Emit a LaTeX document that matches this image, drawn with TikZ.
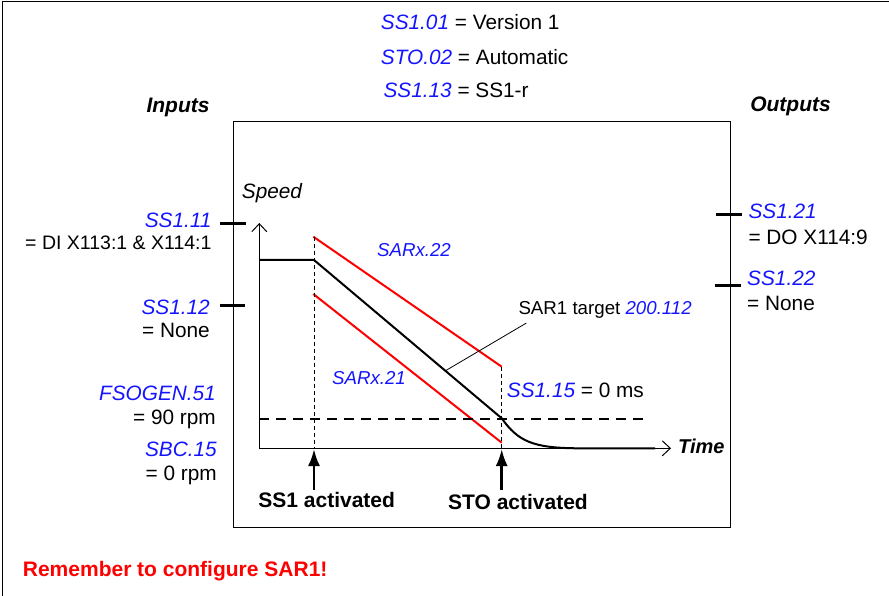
\documentclass[tikz,border=0pt]{standalone}
\usepackage{fontspec}
\setmainfont{Liberation Sans}
\usetikzlibrary{arrows.meta, positioning, calc}
\definecolor{sfBlue}{RGB}{20,20,255}
\definecolor{sfRed}{RGB}{255,0,0}
\newcommand{\sfpar}[1]{{\color{sfBlue}\itshape #1}}

\begin{document}
\begin{tikzpicture}[x=1pt, y=-1pt,
    txt/.style={inner sep=0pt, font=\fontsize{20.8}{24}\selectfont},
    prm/.style={inner sep=0pt, text=sfBlue, font=\fontsize{20.8}{24}\selectfont\itshape},
    small/.style={font=\fontsize{18.7}{22}\selectfont\itshape},
    hdr/.style={inner sep=0pt, font=\fontsize{21}{25}\selectfont\bfseries\itshape},
    evt/.style={inner sep=0pt, font=\fontsize{21}{25}\selectfont\bfseries},
    tickmark/.style={line width=2.6pt},
    axis/.style={line width=1pt, -{Straight Barb[length=8pt, width=15pt]}},
    speed/.style={line width=2pt},
    limit/.style={line width=2pt, draw=sfRed},
    guide/.style={line width=0.8pt, dash pattern=on 4pt off 3pt},
    level/.style={line width=2pt, dash pattern=on 10pt off 7pt},
    trigger/.style={line width=2.6pt, -{Latex[length=17pt, width=12pt]}},
    node distance=9pt and 0pt
]
    \useasboundingbox (0,0) rectangle (889,596);
    \draw[line width=1.5pt] (2.5,596) -- (2.5,1.5) -- (889,1.5);

    % settings
    \node[txt, anchor=base west] (ver) at (380.7,30) {\sfpar{SS1.01} = Version 1};
    \node[txt, anchor=base west] (sto) at (380.7,64.5) {\sfpar{STO.02} = Automatic};
    \node[txt, anchor=base west] (ss113) at (383.3,97.5) {\sfpar{SS1.13} = SS1-r};
    \node[hdr, anchor=base] (inputs) at (178,112.5) {Inputs};
    \node[hdr, anchor=base] (outputs) at (790.5,112) {Outputs};

    % chart
    \node[draw, line width=1.3pt, minimum width=497pt, minimum height=406pt,
          inner sep=0pt, outer sep=0pt] (chart) at (481.8,324.3) {};
    \coordinate (o) at (259.3,448.3);
    \coordinate (yend) at (259.3,223);
    \coordinate (xend) at (671,448.3);
    \draw[axis] (o) -- (yend);
    \draw[axis] (o) -- (xend);
    \node[txt, font=\fontsize{20.8}{24}\selectfont\itshape, anchor=base west] (speedlbl) at (241.7,199) {Speed};
    \node[hdr, font=\fontsize{20}{24}\selectfont\bfseries\itshape, anchor=base west] (timelbl) at (678,453) {Time};

    \coordinate (s0) at (259.3,260);
    \coordinate (s1) at (314,260);
    \coordinate (s2) at (501.7,418.3);
    \coordinate (s3) at (580,448.3);
    \coordinate (s4) at (655,448.3);
    \draw[speed] (s0) -- (s1) -- (s2) .. controls (518,441) and (532,448.3) .. (s3) -- (s4);

    \coordinate (hi0) at (313.3,236.7);
    \coordinate (hi1) at (501.7,366.7);
    \coordinate (lo0) at (313.3,294);
    \coordinate (lo1) at (501.7,442.7);
    \draw[limit] (hi0) -- (hi1);
    \draw[limit] (lo0) -- (lo1);

    \coordinate (t1) at (314,449);
    \coordinate (t2) at (501.7,449);
    \draw[guide] (314,236.7) -- (t1);
    \draw[guide] (hi1) -- (t2);
    \draw[level] (259.3,419.3) -- (648,419.3);
    \draw[trigger] (314,490) -- (t1);
    \draw[trigger] (501.7,490) -- (t2);

    \node[evt, anchor=base] (ss1act) at (326.7,507.5) {SS1 activated};
    \node[evt, anchor=base] (stoact) at (518,509) {STO activated};
    \node[prm, small, anchor=base] (sar22) at (414,256.7) {SARx.22};
    \node[prm, small, anchor=base] (sar21) at (369,384.7) {SARx.21};
    \node[txt, font=\fontsize{18.7}{22}\selectfont, anchor=base west] (target) at (518.3,314) {SAR1 target \sfpar{200.112}};
    \coordinate (tgtpt) at ($(s1)!0.7!(s2)$);
    \draw[line width=0.8pt] ([xshift=8pt, yshift=-5pt]target.south west) -- (tgtpt);
    \node[txt, anchor=base west] (ss115) at (506.7,397.5) {\sfpar{SS1.15} = 0 ms};

    % inputs
    \node[prm, anchor=base east] (ss111) at (211.7,227.5) {SS1.11};
    \node[txt, font=\fontsize{19.5}{23}\selectfont, below left=8pt and 0pt of ss111.south east] (ss111v) {= DI X113:1 \& X114:1};
    \node[prm, anchor=base east] (ss112) at (210,314) {SS1.12};
    \node[txt, below left=of ss112.south east] (ss112v) {= None};
    \node[prm, anchor=base east] (fsogen) at (216,400.5) {FSOGEN.51};
    \node[txt, below left=of fsogen.south east] (fsogenv) {= 90 rpm};
    \node[prm, anchor=base east] (sbc) at (217,456.5) {SBC.15};
    \node[txt, below left=of sbc.south east] (sbcv) {= 0 rpm};
    \draw[tickmark] (220,223.3) -- (246,223.3);
    \draw[tickmark] (220,305.7) -- (245,305.7);

    % outputs
    \node[prm, anchor=base west] (ss121) at (748.3,219) {SS1.21};
    \node[txt, below right=10pt and 0pt of ss121.south west] (ss121v) {= DO X114:9};
    \node[prm, anchor=base west] (ss122) at (747,285.5) {SS1.22};
    \node[txt, below right=10pt and 0pt of ss122.south west] (ss122v) {= None};
    \draw[tickmark] (716,214.3) -- (741.7,214.3);
    \draw[tickmark] (715,285.3) -- (741,285.3);

    \node[evt, text=sfRed, anchor=base west] (note) at (22.7,576) {Remember to configure SAR1!};
\end{tikzpicture}
\end{document}
